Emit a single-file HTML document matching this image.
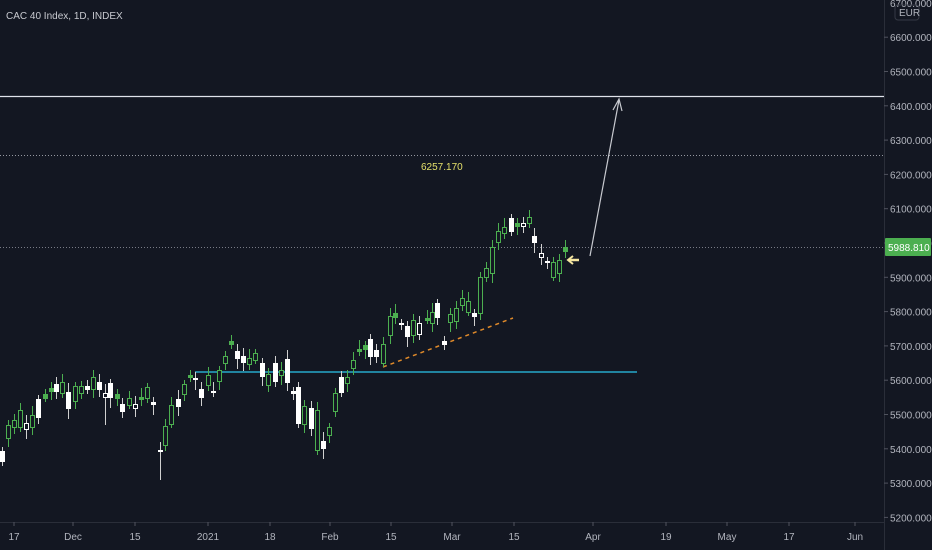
<!DOCTYPE html>
<html><head><meta charset="utf-8"><style>
html,body{margin:0;padding:0;background:#131722;width:932px;height:550px;overflow:hidden}
svg{display:block}
text{font-family:"Liberation Sans",sans-serif;fill:#b2b5be;font-size:10px}
</style></head><body>
<svg id="s" width="932" height="550" xmlns="http://www.w3.org/2000/svg">
<rect width="932" height="550" fill="#131722"/>
<line x1="884.5" y1="0" x2="884.5" y2="550" stroke="#2a2e39"/>
<line x1="0" y1="522.5" x2="884" y2="522.5" stroke="#2a2e39"/>
<text x="6" y="19" font-size="11.5" style="fill:#c8cad0">CAC 40 Index, 1D, INDEX</text>
<line x1="0" y1="96.5" x2="884" y2="96.5" stroke="#e0e3eb" stroke-width="1.2"/>
<line x1="0" y1="155.5" x2="884" y2="155.5" stroke="#9598a1" stroke-dasharray="1,2"/>
<line x1="0" y1="247.5" x2="884" y2="247.5" stroke="#787b86" stroke-dasharray="1,2"/>
<text x="421" y="170" style="fill:#e5e06a" font-size="10">6257.170</text>
<line x1="195" y1="372" x2="637" y2="372" stroke="#26a9c9" stroke-width="1.5"/>
<line x1="383" y1="367" x2="513" y2="318" stroke="#e08a2a" stroke-width="1.5" stroke-dasharray="4,4"/>
<line x1="590" y1="256" x2="619" y2="100" stroke="#c8cad0" stroke-width="1.2"/>
<polyline points="613,110 619,99 622,111" fill="none" stroke="#c8cad0" stroke-width="1.2"/>
<line x1="569" y1="260" x2="579" y2="260" stroke="#f5e6a0" stroke-width="2.5"/>
<polyline points="573,256 568,260 573,264" fill="none" stroke="#f5e6a0" stroke-width="2"/>
<g id="c"></g>
<g id="ax"></g>
<rect x="885" y="238" width="46" height="18" fill="#4caf50" rx="1"/>
<text x="888" y="251" style="fill:#fff" font-size="10">5988.810</text>
<rect x="895" y="5" width="24" height="15" fill="none" stroke="#363a45" rx="3"/>
<text x="899" y="16" font-size="9.5">EUR</text>
</svg>
<script>
var d=[[2,451,462,'w'],[8,425,438,'g'],[14,420,427,'g'],[20,410,427,'g'],[26,423,429,'h'],[32,415,427,'g'],[38,399,418,'w'],[45,394,398,'g'],[51,388,391,'g'],[56,384,392,'w'],[62,382,393,'g'],[68,392,409,'w'],[75,386,401,'g'],[81,386,393,'g'],[87,386,390,'w'],[93,377,389,'g'],[99,382,390,'w'],[105,393,397,'h'],[110,383,398,'w'],[117,394,398,'g'],[122,404,412,'w'],[129,398,405,'g'],[135,404,408,'h'],[141,397,399,'g'],[147,387,398,'g'],[153,402,405,'w'],[160,450,452,'w'],[165,426,445,'g'],[171,405,424,'g'],[178,399,407,'w'],[184,384,394,'g'],[190,375,377,'g'],[195,378,380,'w'],[201,389,398,'w'],[208,375,385,'g'],[213,391,393,'w'],[219,370,381,'g'],[225,356,363,'g'],[231,341,344,'g'],[237,351,359,'w'],[243,356,363,'w'],[249,358,364,'g'],[255,353,360,'g'],[262,363,377,'w'],[268,374,385,'g'],[275,363,382,'w'],[281,370,375,'g'],[287,359,383,'w'],[293,391,394,'w'],[298,387,424,'w'],[304,406,424,'g'],[311,408,429,'w'],[317,410,450,'g'],[323,441,449,'w'],[329,427,435,'g'],[335,393,411,'g'],[341,377,393,'w'],[347,377,383,'g'],[353,360,368,'g'],[359,349,351,'g'],[365,345,349,'g'],[370,339,357,'w'],[376,350,357,'w'],[383,344,363,'g'],[390,316,335,'g'],[395,313,317,'g'],[401,323,325,'w'],[407,326,337,'w'],[413,320,335,'g'],[419,323,334,'h'],[427,318,320,'g'],[432,312,323,'g'],[437,303,318,'w'],[444,341,345,'w'],[450,314,322,'g'],[456,308,321,'g'],[462,298,305,'g'],[468,301,312,'g'],[474,313,317,'w'],[480,277,313,'g'],[486,268,277,'g'],[492,247,273,'g'],[498,231,242,'g'],[504,227,233,'g'],[511,218,232,'w'],[517,223,226,'g'],[523,223,226,'h'],[529,217,223,'g'],[534,236,243,'w'],[541,253,257,'h'],[547,261,263,'w'],[553,262,277,'g'],[559,260,273,'g'],[565,247,251,'g']];
var g=document.getElementById('c'),h='';
d.forEach(function(c,i){var x=c[0],t=c[1],b=c[2],k=c[3];
var wt=t-4-(i*7%6),wb=b+4+(i*5%7);if(i==17||i==26)wb=b+28;if(x==160){wt=442;wb=480;}
var col=k=='g'?'#4caf50':'#ffffff';
h+='<line x1="'+(x+.5)+'" y1="'+wt+'" x2="'+(x+.5)+'" y2="'+wb+'" stroke="'+(k=='g'?'#4caf50':'#d0d0d0')+'"/>';
if(k=='w')h+='<rect x="'+(x-2)+'" y="'+t+'" width="5" height="'+Math.max(2,b-t)+'" fill="#fff"/>';
else if(k=='h')h+='<rect x="'+(x-1.5)+'" y="'+(t+.5)+'" width="4" height="'+Math.max(2,b-t)+'" fill="#131722" stroke="#fff"/>';
else h+='<rect x="'+(x-1.5)+'" y="'+(t+.5)+'" width="4" height="'+Math.max(2,b-t)+'" fill="'+(b-t<5?'#4caf50':'#131722')+'" stroke="#4caf50"/>';});
g.innerHTML=h;
var a='',p=[6600,6500,6400,6300,6200,6100,6000,5900,5800,5700,5600,5500,5400,5300,5200];
p.forEach(function(v){var y=243-(v-6000)*0.343;a+='<line x1="884" y1="'+y+'" x2="888" y2="'+y+'" stroke="#50535e"/><text x="890" y="'+(y+4)+'">'+v+'.000</text>';});
a+='<text x="890" y="7">6700.000</text>';
[[14,'17'],[73,'Dec'],[135,'15'],[208,'2021'],[270,'18'],[330,'Feb'],[391,'15'],[452,'Mar'],[514,'15'],[593,'Apr'],[666,'19'],[727,'May'],[789,'17'],[855,'Jun']].forEach(function(l){a+='<line x1="'+l[0]+'" y1="522" x2="'+l[0]+'" y2="526" stroke="#50535e"/><text x="'+l[0]+'" y="540" text-anchor="middle">'+l[1]+'</text>';});
document.getElementById('ax').innerHTML=a;
</script>
</body></html>
